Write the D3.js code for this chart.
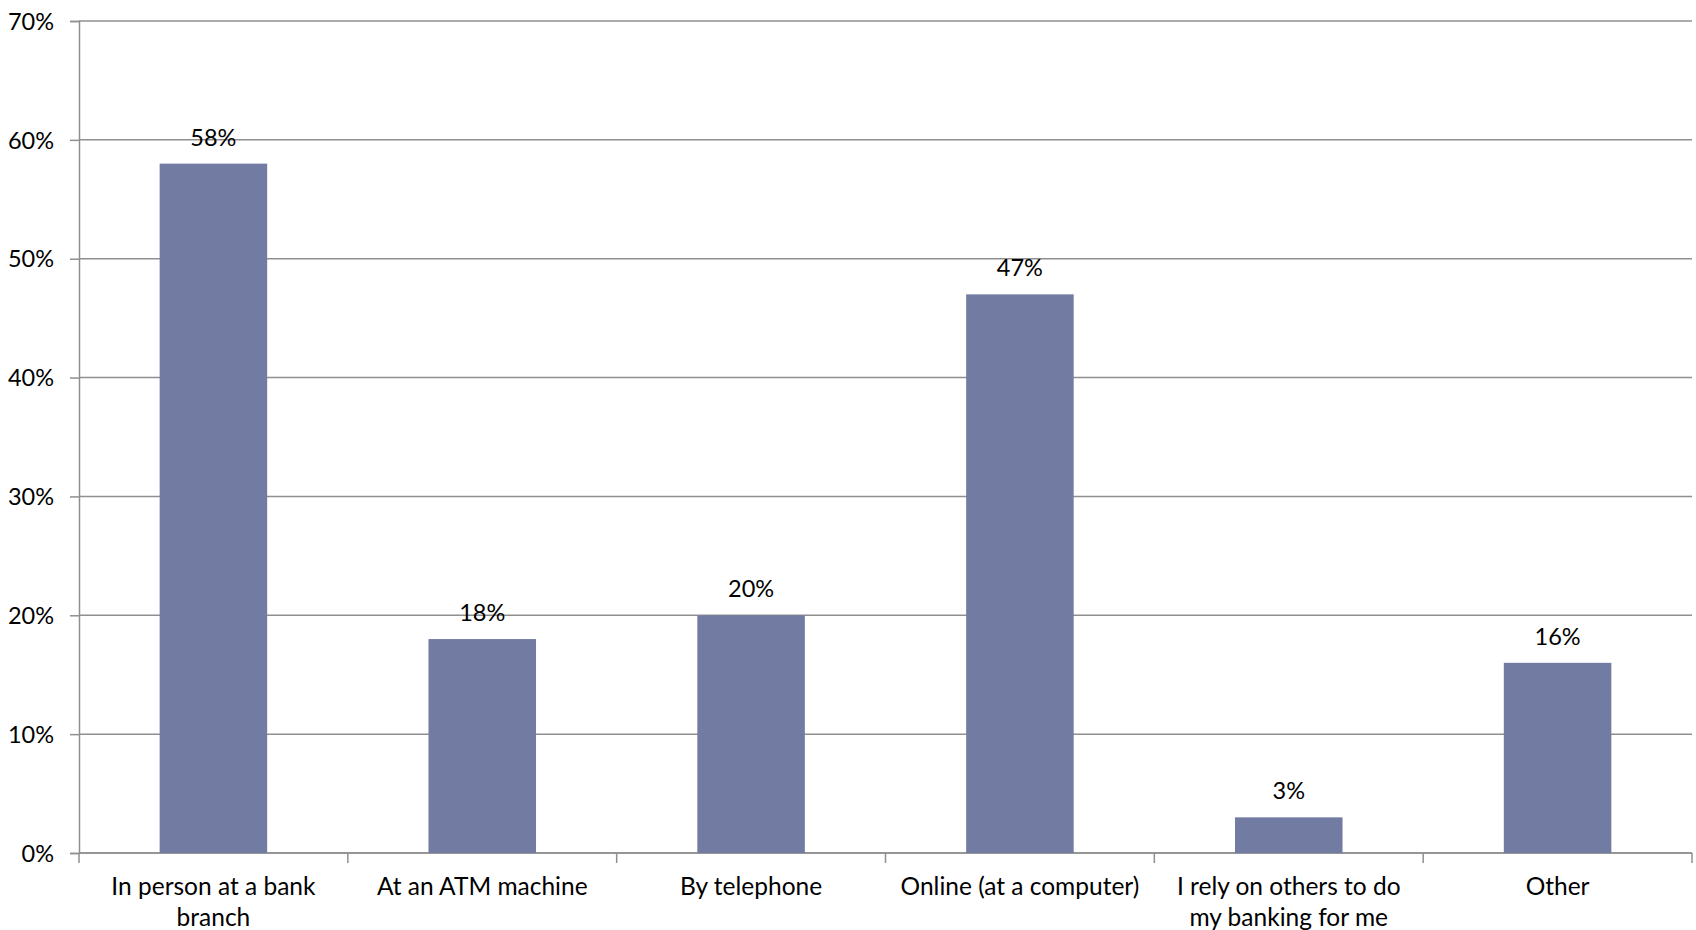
<!DOCTYPE html>
<html>
<head>
<meta charset="utf-8">
<script src="https://cdn.jsdelivr.net/npm/d3@7"></script>
<style>
  html, body { margin: 0; padding: 0; background: #fff; }
  svg text { font-family: "Gill Sans", "Gill Sans MT", Lato, "Open Sans", sans-serif; fill: #000; }
</style>
</head>
<body>
<svg id="chart" width="1696" height="930"></svg>
<script>
// Banking channels used (share of respondents)
const categories = [
  "In person at a bank branch",
  "At an ATM machine",
  "By telephone",
  "Online (at a computer)",
  "I rely on others to do my banking for me",
  "Other"
];
const categoryLines = [
  ["In person at a bank", "branch"],
  ["At an ATM machine"],
  ["By telephone"],
  ["Online (at a computer)"],
  ["I rely on others to do", "my banking for me"],
  ["Other"]
];
const values = [58, 18, 20, 47, 3, 16];
const yTicks = [0, 10, 20, 30, 40, 50, 60, 70];

const svg = d3.select("#chart");
const margin = { left: 79, right: 4, top: 21, bottom: 77 };
const W = 1696, H = 930;
const innerW = W - margin.left - margin.right;
const innerH = H - margin.top - margin.bottom;

const g = svg.append("g").attr("transform", `translate(${margin.left},${margin.top})`);

const x = d3.scaleBand().domain(categories).range([0, innerW]).paddingInner(0.6).paddingOuter(0.3);
const y = d3.scaleLinear().domain([0, 70]).range([innerH, 0]);

const gridColor = "#8f8f8f";

// horizontal gridlines
g.append("g")
  .selectAll("line")
  .data(yTicks)
  .join("line")
  .attr("x1", 0).attr("x2", innerW)
  .attr("y1", d => y(d)).attr("y2", d => y(d))
  .attr("stroke", gridColor).attr("stroke-width", 1.5);

// y axis
const yAxis = g.append("g")
  .call(d3.axisLeft(y).tickValues(yTicks).tickFormat(d => d + "%").tickSize(9).tickPadding(16));
yAxis.select(".domain").attr("stroke", gridColor).attr("stroke-width", 1.5);
yAxis.selectAll(".tick line").attr("stroke", gridColor).attr("stroke-width", 1.5);
yAxis.selectAll(".tick text").attr("font-size", 23.5).attr("dy", "0.35em");

// x axis with ticks at category boundaries
const xAxisG = g.append("g").attr("transform", `translate(0,${innerH})`);
xAxisG.append("line")
  .attr("x1", 0).attr("x2", innerW)
  .attr("stroke", gridColor).attr("stroke-width", 1.5);
const boundaries = d3.range(categories.length + 1).map(i => i * innerW / categories.length);
xAxisG.selectAll("line.bound")
  .data(boundaries)
  .join("line")
  .attr("class", "bound")
  .attr("x1", d => d).attr("x2", d => d)
  .attr("y1", 0).attr("y2", 10)
  .attr("stroke", gridColor).attr("stroke-width", 1.5);

// category labels
xAxisG.selectAll("text.cat")
  .data(categories)
  .join("text")
  .attr("class", "cat")
  .attr("text-anchor", "middle")
  .attr("font-size", 24.5)
  .attr("transform", d => `translate(${x(d) + x.bandwidth() / 2},42)`)
  .each(function(d, i) {
    d3.select(this).selectAll("tspan")
      .data(categoryLines[i])
      .join("tspan")
      .attr("x", 0)
      .attr("y", (l, j) => j * 31)
      .text(l => l);
  });

// bars
g.append("g")
  .selectAll("rect")
  .data(values)
  .join("rect")
  .attr("x", (d, i) => x(categories[i]))
  .attr("y", d => y(d))
  .attr("width", x.bandwidth())
  .attr("height", d => y(0) - y(d))
  .attr("fill", "#727ca2");

// value labels
g.append("g")
  .selectAll("text")
  .data(values)
  .join("text")
  .attr("x", (d, i) => x(categories[i]) + x.bandwidth() / 2)
  .attr("y", d => y(d) - 18)
  .attr("text-anchor", "middle")
  .attr("font-size", 23.5)
  .text(d => d + "%");
</script>
</body>
</html>
